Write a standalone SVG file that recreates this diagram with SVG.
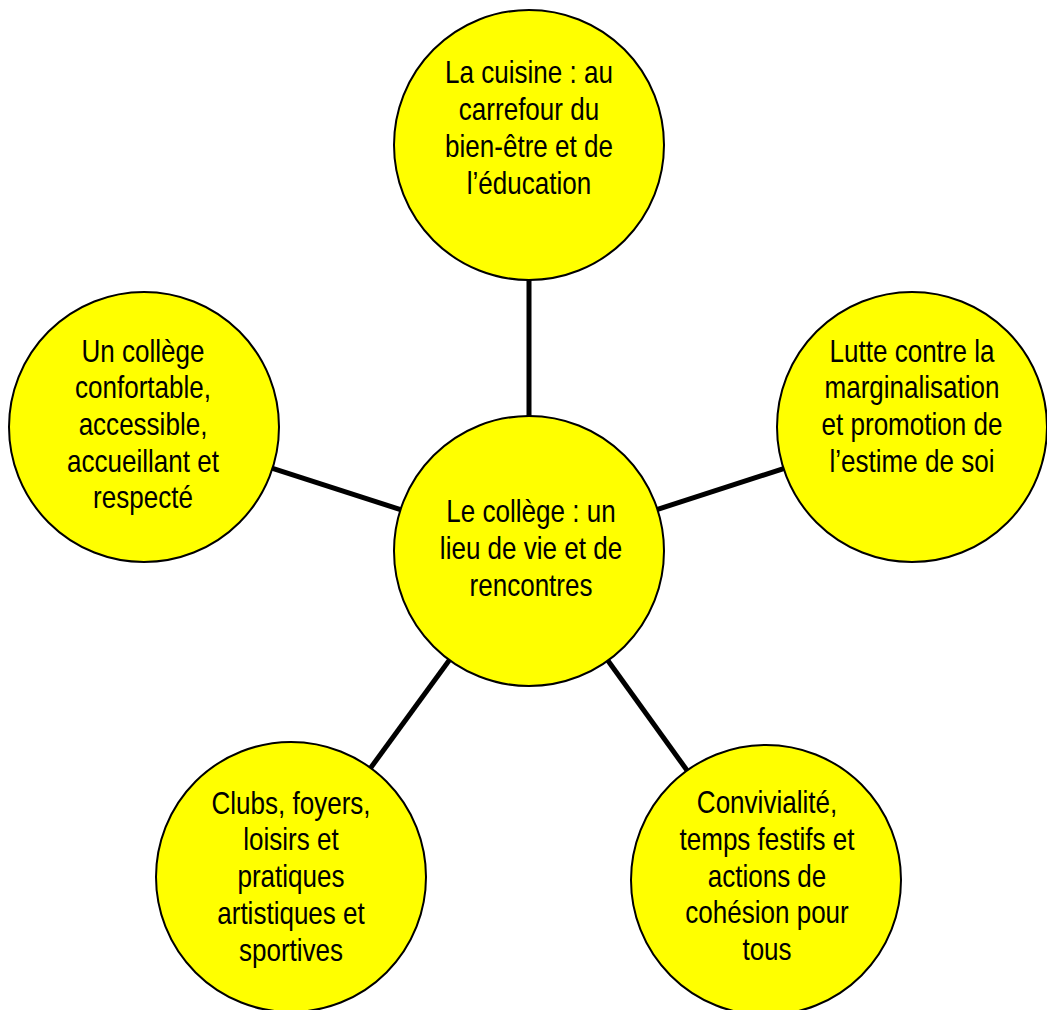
<svg xmlns="http://www.w3.org/2000/svg" width="1047" height="1010" viewBox="0 0 1047 1010">
<style>
.node circle{fill:#ffff00;stroke:#000;stroke-width:2}
.node text{font-family:"Liberation Sans",Arial,sans-serif;font-size:31px;fill:#000;text-anchor:middle}
.conn line{stroke:#000;stroke-width:5}
</style>
<rect width="1047" height="1010" fill="#fff"/>
<g id="connectors" class="conn">
<line x1="529" y1="551" x2="529" y2="145"/>
<line x1="529" y1="551" x2="144" y2="427"/>
<line x1="529" y1="551" x2="912" y2="427"/>
<line x1="529" y1="551" x2="291" y2="877"/>
<line x1="529" y1="551" x2="766" y2="880"/>
</g>
<g id="node-cuisine" class="node">
<circle cx="529" cy="145" r="135"/>
<g transform="translate(529,0) scale(0.84,1)">
<text x="0" y="83">La cuisine : au</text>
<text x="0" y="120">carrefour du</text>
<text x="0" y="157">bien-être et de</text>
<text x="0" y="194">l’éducation</text>
</g>
</g>
<g id="node-confortable" class="node">
<circle cx="144" cy="427" r="135"/>
<g transform="translate(143,0) scale(0.84,1)">
<text x="0" y="362">Un collège</text>
<text x="0" y="398">confortable,</text>
<text x="0" y="435">accessible,</text>
<text x="0" y="472">accueillant et</text>
<text x="0" y="508">respecté</text>
</g>
</g>
<g id="node-marginalisation" class="node">
<circle cx="912" cy="427" r="135"/>
<g transform="translate(912,0) scale(0.84,1)">
<text x="0" y="362">Lutte contre la</text>
<text x="0" y="398">marginalisation</text>
<text x="0" y="435">et promotion de</text>
<text x="0" y="472">l’estime de soi</text>
</g>
</g>
<g id="node-center" class="node">
<circle cx="529" cy="551" r="135"/>
<g transform="translate(531,0) scale(0.84,1)">
<text x="0" y="522">Le collège : un</text>
<text x="0" y="559">lieu de vie et de</text>
<text x="0" y="596">rencontres</text>
</g>
</g>
<g id="node-clubs" class="node">
<circle cx="291" cy="877" r="135"/>
<g transform="translate(291,0) scale(0.84,1)">
<text x="0" y="814">Clubs, foyers,</text>
<text x="0" y="850">loisirs et</text>
<text x="0" y="887">pratiques</text>
<text x="0" y="924">artistiques et</text>
<text x="0" y="961">sportives</text>
</g>
</g>
<g id="node-convivialite" class="node">
<circle cx="766" cy="880" r="135"/>
<g transform="translate(767,0) scale(0.84,1)">
<text x="0" y="813">Convivialité,</text>
<text x="0" y="850">temps festifs et</text>
<text x="0" y="887">actions de</text>
<text x="0" y="923">cohésion pour</text>
<text x="0" y="960">tous</text>
</g>
</g>
</svg>
